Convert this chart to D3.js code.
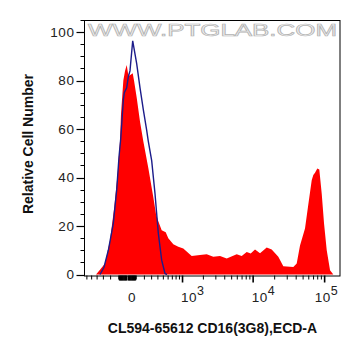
<!DOCTYPE html>
<html><head><meta charset="utf-8">
<script src="https://cdn.jsdelivr.net/npm/d3@7"></script>
<style>
html,body{margin:0;padding:0;background:#fff;}
svg{display:block;}
text{font-family:"Liberation Sans",Arial,sans-serif;}
</style></head>
<body>
<svg id="chart" width="361" height="356"></svg>
<script>
// ---- data (fluorescence channel value, relative cell number) ----
const sampleX = [-419,-352,-276,-208,-153,-112,-85,-74,-47,-28,-9,6,20,59,74,105,145,186,252,325,368,407,468,548,604,725,864,1026,1361,1790,2229,2763,3433,4264,5887,6917,8127,9245,10620,12475,15482,18180,22496,26425,36470,40690,45250,53130,58520,65950,69440,73340,79000,84230,91000,98100,107000,119000,132300];
const sampleY = [0,2,4.5,14,28,42,55,66,80,84,86.4,83,82,83,80,73,63,55,44,32,25,22,18.3,17.4,15,12.5,11.4,10.7,7.6,8,8.4,7.3,7.6,6.6,8.4,7.6,9.3,8.7,10.3,8.8,11.1,10.3,7.3,3.4,3.1,4.5,12,19,28,38.9,41,42,43.7,43.3,33.4,21,10,1.8,0];
const controlX = [-352,-291,-230,-166,-124,-97,-77,-47,-36,-9,9,28,59,105,145,186,230,252,301,352,407,468,533,575];
const controlY = [0,3,10,21,35,48.5,56,72,75,77,81.5,84,96.4,87,77,68,59.6,55,47,33.4,17,5.9,0.4,0];
const yTickValues = [0,20,40,60,80,100];
const xMajorValues = [0,1000,10000,100000];
const xMajorBase = ["0","10","10","10"];
const xMajorExp = ["","3","4","5"];
const xDomain = [-667,164000];
const yDomain = [0,105];
const xTitle = "CL594-65612 CD16(3G8),ECD-A";
const yTitle = "Relative Cell Number";
const watermark = "WWW.PTGLAB.COM";

// ---- biexponential-like (arcsinh) transform ----
const W = 350;
const T = v => Math.asinh(v / W) / Math.LN10;
const L = {left:84, right:340, top:20, bottom:274.5};

const xLin = d3.scaleLinear().domain(xDomain.map(T)).range([L.left, L.right]);
const x = v => xLin(T(v));
const y = d3.scaleLinear().domain(yDomain).range([L.bottom, L.top]);

const svg = d3.select("#chart");

// watermark
svg.append("text")
  .attr("x", 88).attr("y", 35.5)
  .attr("textLength", 249).attr("lengthAdjust", "spacingAndGlyphs")
  .style("font-size", "17px")
  .attr("fill", "#f2f2f2").attr("stroke", "#b4b4b4").attr("stroke-width", 0.7)
  .text(watermark);

// sample histogram (filled)
const area = d3.area().x((d,i) => x(sampleX[i])).y0(y(0)).y1((d,i) => y(sampleY[i]));
svg.append("path").datum(sampleY).attr("d", area).attr("fill", "#ff0000");

// control histogram (outline)
const line = d3.line().x((d,i) => x(controlX[i])).y((d,i) => y(controlY[i]));
svg.append("path").datum(controlY).attr("d", line)
  .attr("fill", "none").attr("stroke", "#1c1c8a").attr("stroke-width", 1.4);

// frame
svg.append("rect").attr("x", L.left + 0.5).attr("y", L.top + 0.5)
  .attr("width", L.right - L.left - 0.5).attr("height", L.bottom + 1 - L.top)
  .attr("fill", "none").attr("stroke", "#000").attr("stroke-width", 1);

// y axis
const yMinor = d3.range(0, 106, 5);
const yAxisG = svg.append("g").attr("transform", `translate(${L.left + 0.5},0)`);
yAxisG.selectAll("line.minor").data(yMinor).enter().append("line")
  .attr("x1", -4).attr("x2", 0)
  .attr("y1", d => Math.round(y(d)) + 0.5).attr("y2", d => Math.round(y(d)) + 0.5)
  .attr("stroke", "#000");
yAxisG.selectAll("line.major").data(yTickValues).enter().append("line")
  .attr("x1", -8).attr("x2", 0)
  .attr("y1", d => Math.round(y(d)) + 0.5).attr("y2", d => Math.round(y(d)) + 0.5)
  .attr("stroke", "#000").attr("stroke-width", 1.2);
yAxisG.selectAll("text").data(yTickValues).enter().append("text")
  .attr("x", -10).attr("y", d => y(d)).attr("dy", "0.35em")
  .attr("text-anchor", "end").style("font-size", "13.5px").style("letter-spacing", "0.6px")
  .attr("fill", "#222").text(d => d);

// x axis ticks
const xMinor = [];
[-1, 1].forEach(s => {
  d3.range(10, 100, 10).forEach(v => xMinor.push(s * v));
  d3.range(100, 1000, 100).forEach(v => xMinor.push(s * v));
});
d3.range(2000, 10000, 1000).forEach(v => xMinor.push(v));
d3.range(20000, 100000, 10000).forEach(v => xMinor.push(v));
const xMinorIn = xMinor.filter(v => v >= xDomain[0] && v <= xDomain[1]);
const xAxisG = svg.append("g").attr("transform", `translate(0,${L.bottom + 1})`);
xAxisG.selectAll("line.minor").data(xMinorIn).enter().append("line")
  .attr("x1", d => x(d)).attr("x2", d => x(d))
  .attr("y1", 0).attr("y2", d => Math.abs(d) < 100 ? 5 : 4)
  .attr("stroke", "#000").attr("stroke-width", d => Math.abs(d) < 100 ? 1.5 : 1);
xAxisG.selectAll("line.major").data(xMajorValues.filter(v => v !== 0)).enter().append("line")
  .attr("x1", d => x(d)).attr("x2", d => x(d))
  .attr("y1", 0).attr("y2", 7)
  .attr("stroke", "#000").attr("stroke-width", 1.6);

const lab = svg.append("g");
xMajorValues.forEach((v, i) => {
  const t = lab.append("text").attr("y", 301.5).style("font-size", "13.5px")
    .style("letter-spacing", "0.5px").attr("fill", "#222");
  if (xMajorExp[i] === "") {
    t.attr("x", x(v) + 4.5).attr("text-anchor", "middle").text(xMajorBase[i]);
  } else {
    const last = i === xMajorValues.length - 1;
    t.attr("x", last ? x(v) + 13.5 : x(v) - 1.5).attr("text-anchor", last ? "end" : "start");
    t.append("tspan").text(xMajorBase[i]);
    t.append("tspan").attr("dy", -7).style("font-size", "12.5px").text(xMajorExp[i]);
  }
});

// axis titles
svg.append("text").attr("x", 212.5).attr("y", 333)
  .attr("text-anchor", "middle").style("font-size", "14px").style("font-weight", "bold")
  .attr("fill", "#111").text(xTitle);
svg.append("text").attr("transform", "translate(32.5,144) rotate(-90)")
  .attr("text-anchor", "middle").style("font-size", "14px").style("font-weight", "bold")
  .attr("fill", "#111").text(yTitle);
</script>
</body></html>
